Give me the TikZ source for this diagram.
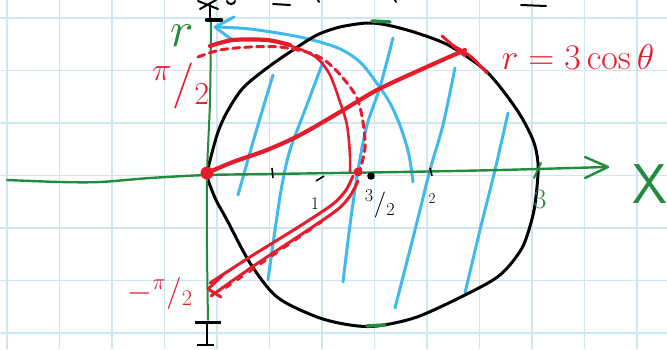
\RequirePackage{fix-cm}
\documentclass[tikz,border=0pt]{standalone}
\definecolor{gridc}{RGB}{205,230,242}
\definecolor{gr}{RGB}{34,139,60}
\definecolor{rd}{RGB}{228,28,44}
\definecolor{bl}{RGB}{62,186,236}
\tikzset{
 gridline/.style={draw=gridc, line width=1.4pt},
 axisline/.style={draw=gr, line width=2.4pt, line cap=round, line join=round},
 circline/.style={draw=black, line width=3pt, line join=round},
 redline/.style={draw=rd, line width=4.2pt, line cap=round, line join=round},
 redthin/.style={draw=rd, line width=2.6pt, line cap=round, line join=round},
 hatch/.style={draw=bl, line width=3pt, line cap=round, line join=round},
 blk/.style={draw=black, line width=2pt, line cap=round},
 lbl/.style={inner sep=0pt, anchor=center},
}
\begin{document}
\begin{tikzpicture}[x=1pt,y=-1pt]
\useasboundingbox (0,0) rectangle (667,349);
\fill[white] (0,0) rectangle (667,349);
% grid
\foreach \i in {0,...,12} \draw[gridline] ({7+52.5*\i},0) -- ({7+52.5*\i},349);
\foreach \j in {0,...,6} \draw[gridline] (0,{18+52.5*\j}) -- (667,{18+52.5*\j});
% top cut-off black writing
\draw[blk] (198,1) -- (218,9);
\draw[blk] (200,9) -- (216,0);
\draw[blk] (235,1) arc (0:-180:4pt and 3pt);
\draw[blk] (273,4) -- (290,5);
\draw[blk] (318,0) -- (319,2);
\draw[blk] (395,0) -- (396,2);
\draw[blk] (521,5) -- (546,6);
% hatch lines
\draw[hatch] plot[smooth] coordinates {(238,195) (255,135) (273,75)};
\draw[hatch] plot[smooth] coordinates {(323,62) (305,110) (290,150) (282,185) (275,230) (268,280)};
\draw[hatch] plot[smooth] coordinates {(393,38) (380,87) (367,125) (358,170) (350,225) (343,282)};
\draw[hatch] plot[smooth] coordinates {(455,68) (443,125) (430,170) (415,230) (395,308)};
\draw[hatch] plot[smooth] coordinates {(508,113) (495,170) (480,230) (465,293)};
\draw[hatch] plot[smooth] coordinates {(413,182) (409,155) (401,128) (390,103) (376,82) (360,62) (338,48) (300,37) (250,29) (216,27)};
\draw[hatch] (234,17) -- (215,27) -- (231,39);
% circle r = 3 cos theta
\draw[circline] plot[smooth cycle] coordinates {(207,173) (217,135) (227,112) (243,88) (267,68) (293,50) (317,35) (340,27) (367,23) (387,25) (417,33) (450,46) (487,72) (517,110) (533,140) (538,163) (537,187) (533,215) (522,248) (500,275) (467,294) (417,317) (377,326) (350,325) (317,317) (277,297) (250,263) (227,220) (216,200) (208,180)};
% axes
\draw[axisline] plot[smooth] coordinates {(7,180) (60,182) (100,182) (150,178) (207,175) (270,174) (400,172) (500,170) (606,167)};
\draw[axisline] (585,157) -- (608,167) -- (585,178);
\draw[axisline, line width=2pt] plot[smooth] coordinates {(211,22) (210,100) (207,175) (207,250) (208,320)};
\draw[axisline, line width=3.5pt] (372,21) -- (390,22);
\draw[axisline, line width=3.5pt] (367,326) -- (385,325);
\draw[axisline, line width=2pt] (534,178) -- (541,163);
% black marks on y axis
\draw[blk] (210,4) -- (210,20);
\draw[black, line width=4.5pt, line cap=round] (207,20) -- (221,20);
\draw[black, line width=3pt] (195,322) -- (221,322);
\draw[blk] (207,322) -- (207,345);
\draw[black, line width=2.5pt] (197,345) -- (214,345);
% ticks on x axis
\draw[black, line width=1.6pt] (272,168) -- (273,178);
\draw[black, line width=1.6pt] (316,181) -- (324,176);
\fill[black] (371,176) circle (3.8pt);
\draw[black, line width=1.6pt] (430,168) -- (432,176);
% red ray
\draw[redline] plot[smooth] coordinates {(207,173) (233,162) (267,150) (300,135) (340,112) (377,90) (420,70) (465,50)};
\draw[redthin, line width=3pt] (442,36) -- (465,56);
\draw[redthin, line width=3pt] plot[smooth] coordinates {(452,45) (470,56) (487,73)};
% red upper arc
\draw[redthin] plot[smooth] coordinates {(210,46) (233,40) (267,40) (297,48) (317,58) (330,75) (340,102) (347,125) (350,155) (350,172)};
\draw[redline] plot[smooth] coordinates {(210,46) (233,40) (267,40) (290,45)};
\draw[redthin, line width=3pt, dash pattern=on 7pt off 5pt] plot[smooth] coordinates {(198,57) (220,50) (250,47) (280,47) (310,53) (327,62) (343,78) (357,98) (363,122) (365,148) (360,170)};
% red lower part
\draw[redthin, line width=3pt] plot[smooth] coordinates {(353,176) (346,190) (333,204) (300,226) (250,257) (210,283)};
\draw[redthin, line width=3pt] plot[smooth] coordinates {(358,181) (350,196) (337,210) (305,232) (255,265) (211,296)};
\draw[redthin, line width=3pt] (222,276) -- (208,289) -- (221,297);
\draw[redthin, line width=2pt, dash pattern=on 6pt off 8pt] (226,288) -- (322,222);
% red dots
\fill[rd] (207,173) circle (6.5pt);
\fill[rd] (358,172) circle (4.5pt);
% labels
\node[lbl, text=gr, font=\fontsize{50}{50}\selectfont] (rlab) at (182,36) {$r$};
\node[lbl, text=rd, font=\fontsize{46}{46}\selectfont] (pihalf) at (181,86) {${}^{\pi}/{}_{2}$};
\node[lbl, text=rd, font=\fontsize{36}{36}\selectfont] (req) at (578,57) {$r=3\cos\theta$};
\node[lbl, text=rd, font=\fontsize{32}{32}\selectfont] (mpihalf) at (160,293) {$-{}^{\pi}/{}_{2}$};
\node[lbl, font=\fontsize{26}{26}\selectfont] (threehalf) at (380,204) {${}^{3}/{}_{2}$};
\node[lbl, font=\fontsize{18}{18}\selectfont] (one) at (315,204) {1};
\node[lbl, font=\fontsize{15}{15}\selectfont] (two) at (432,199) {2};
\node[lbl, text=gr, font=\fontsize{28}{28}\selectfont] (three) at (540,199) {3};
\node[lbl, text=gr, font=\fontsize{56}{56}\selectfont\sffamily] (xlab) at (650,184) {X};
\end{tikzpicture}
\end{document}
